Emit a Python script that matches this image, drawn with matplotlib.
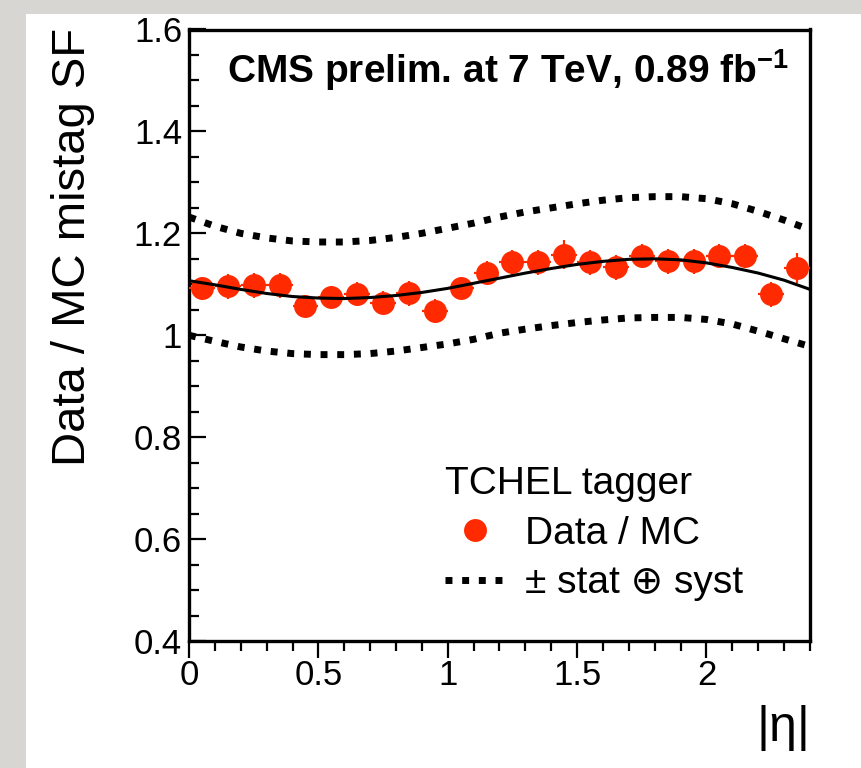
import matplotlib
matplotlib.use('Agg')
import matplotlib.pyplot as plt
from matplotlib.patches import Rectangle
from matplotlib.ticker import FixedLocator, MultipleLocator

# ---------------- data ----------------
eta = [0.05, 0.15, 0.25, 0.35, 0.45, 0.55, 0.65, 0.75, 0.85, 0.95, 1.05, 1.15,
       1.25, 1.35, 1.45, 1.55, 1.65, 1.75, 1.85, 1.95, 2.05, 2.15, 2.25, 2.35]
eta_err = [0.05] * 24
sf = [1.092, 1.096, 1.098, 1.098, 1.057, 1.075, 1.081, 1.064, 1.082, 1.048, 1.093, 1.122,
      1.143, 1.143, 1.158, 1.143, 1.133, 1.155, 1.145, 1.145, 1.156, 1.156, 1.080, 1.132]
sf_err = [0.022, 0.024, 0.024, 0.024, 0.022, 0.022, 0.024, 0.022, 0.024, 0.024, 0.022, 0.024,
          0.024, 0.024, 0.028, 0.024, 0.024, 0.024, 0.024, 0.024, 0.024, 0.024, 0.024, 0.030]

curve_eta = [0.0, 0.1, 0.2, 0.3, 0.4, 0.5, 0.6, 0.7, 0.8, 0.9, 1.0, 1.1, 1.2,
             1.3, 1.4, 1.5, 1.6, 1.7, 1.8, 1.9, 2.0, 2.1, 2.2, 2.3, 2.4]
fit = [1.107, 1.099, 1.090, 1.082, 1.076, 1.073, 1.072, 1.074, 1.078, 1.084, 1.092, 1.102, 1.112,
       1.122, 1.131, 1.139, 1.145, 1.149, 1.150, 1.148, 1.142, 1.133, 1.122, 1.108, 1.090]
upper = [1.232, 1.214, 1.200, 1.191, 1.185, 1.183, 1.183, 1.186, 1.192, 1.200, 1.210, 1.220, 1.232,
         1.242, 1.250, 1.258, 1.265, 1.270, 1.272, 1.272, 1.268, 1.258, 1.243, 1.226, 1.207]
lower = [1.000, 0.988, 0.977, 0.969, 0.964, 0.962, 0.962, 0.964, 0.969, 0.976, 0.983, 0.992, 1.004,
         1.012, 1.019, 1.025, 1.030, 1.034, 1.035, 1.035, 1.031, 1.022, 1.008, 0.993, 0.978]

xticks = [0, 0.5, 1, 1.5, 2]
xticklabels = ['0', '0.5', '1', '1.5', '2']
yticks = [0.4, 0.6, 0.8, 1.0, 1.2, 1.4, 1.6]
yticklabels = ['0.4', '0.6', '0.8', '1', '1.2', '1.4', '1.6']

# ---------------- style ----------------
FONT = ['Liberation Sans', 'DejaVu Sans']
plt.rcParams['font.family'] = FONT
plt.rcParams['mathtext.fontset'] = 'custom'
plt.rcParams['mathtext.rm'] = 'Liberation Sans'
plt.rcParams['mathtext.bf'] = 'Liberation Sans:bold'

RED = '#ff2a00'

fig = plt.figure(figsize=(8.61, 7.68), dpi=100)
fig.patch.set_facecolor('#d8d6d2')
fig.patches.append(Rectangle((26 / 861, 0), 1 - 26 / 861, (768 - 14) / 768,
                             transform=fig.transFigure, facecolor='white',
                             edgecolor='none', zorder=-5))

ax = fig.add_axes([189 / 861, (768 - 641) / 768, 621 / 861, 611.5 / 768])
ax.set_zorder(1)
ax.set_facecolor('white')
ax.set_xlim(0, 2.4)
ax.set_ylim(0.4, 1.6)

for sp in ax.spines.values():
    sp.set_linewidth(2.4)

ax.xaxis.set_major_locator(FixedLocator(xticks))
ax.set_xticklabels(xticklabels)
ax.xaxis.set_minor_locator(MultipleLocator(0.1))
ax.yaxis.set_major_locator(FixedLocator(yticks))
ax.set_yticklabels(yticklabels)
ax.yaxis.set_minor_locator(MultipleLocator(0.05))

ax.tick_params(axis='x', which='major', direction='out', length=12, width=1.6,
               labelsize=25, pad=1)
ax.tick_params(axis='x', which='minor', direction='out', length=7.5, width=1.6)
ax.tick_params(axis='y', which='major', direction='in', length=12, width=1.6,
               labelsize=25, pad=5)
ax.tick_params(axis='y', which='minor', direction='in', length=7.5, width=1.6)
ax.tick_params(top=False, right=False, which='both')

# bands
ax.plot(curve_eta, upper, color='black', lw=5, linestyle=(0, (1, 1.4)),
        dash_capstyle='butt', label='± stat ⊕ syst', zorder=2)
ax.plot(curve_eta, lower, color='black', lw=5, linestyle=(0, (1, 1.4)),
        dash_capstyle='butt', zorder=2)
# fit
ax.plot(curve_eta, fit, color='black', lw=2.2, zorder=4)
# data
ax.errorbar(eta, sf, xerr=eta_err, yerr=sf_err, fmt='none', ecolor=RED,
            elinewidth=1.6, capsize=0, zorder=3)
ax.plot(eta, sf, 'o', color=RED, markersize=16.5, markeredgewidth=0,
        label='Data / MC', zorder=3)

# legend
handles, labels = ax.get_legend_handles_labels()
order = [1, 0]
leg = ax.legend([handles[i] for i in order], [labels[i] for i in order],
                title='TCHEL tagger', loc='upper left',
                bbox_to_anchor=((445 - 189) / 621, (641 - 466) / 611.5),
                frameon=False, fontsize=28, title_fontsize=28,
                borderpad=0, borderaxespad=0, labelspacing=0.35,
                handlelength=1.55, handletextpad=0.5, alignment='left')

# header
ax.text((227 - 189) / 621, (641 - 83) / 611.5,
        r'CMS prelim. at 7 TeV, 0.89 fb$^{\mathbf{-1}}$',
        transform=ax.transAxes, fontsize=28, fontweight='bold',
        ha='left', va='baseline')

# axis labels
ax.set_ylabel('Data / MC mistag SF', fontsize=34)
ax.yaxis.set_label_coords((95 - 189) / 621, (641 - 247) / 611.5)
ax.text(1.0, (641 - 728) / 611.5, '|η|', transform=ax.transAxes,
        fontsize=36, ha='right', va='center')

fig.savefig('out.png', dpi=100, facecolor=fig.get_facecolor())
